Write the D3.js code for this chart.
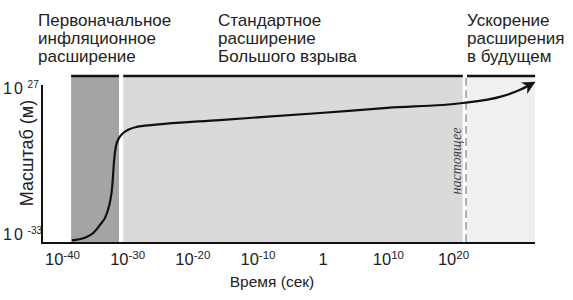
<!DOCTYPE html>
<html>
<head>
<meta charset="utf-8">
<script src="https://cdn.jsdelivr.net/npm/d3@7"></script>
<style>
  body { margin: 0; background: #fff; }
  svg { display: block; font-family: "Liberation Sans", Arial, sans-serif; }
</style>
</head>
<body>
<div id="chart"></div>
<script>
// log10 of time (s) and of scale (m)
const logTime  = [-38.5, -36.5, -35.2, -34.2, -33.1, -32.3, -32.0, -31.6, -30.6, -28.5, -26.0, -15.8, -0.4, 9.9, 21.5, 27.2, 30.3, 32.3];
const logScale = [-36.4, -35.3, -33.4, -30.2, -25.2, -14.5, -3.4, 3.6, 7.7, 10.2, 11.0, 13.0, 15.9, 18.0, 20.0, 22.5, 25.4, 28.2];

// eras: [start, end] in log10 seconds
const eraNames = ["Первоначальное|инфляционное|расширение", "Стандартное|расширение|Большого взрыва", "Ускорение|расширения|в будущем"];
const eraStart = [-38.6, -30.6, 22.15];
const eraEnd   = [-31.25, 21.5, 32.6];
const eraFill  = ["#a4a4a4", "#dadada", "#f0f0f0"];
const presentT = 22.0;

const xTicks = [-40, -30, -20, -10, 0, 10, 20];
const yTicks = [27, -33];

const width = 573, height = 300;
const svg = d3.select("#chart").append("svg")
  .attr("width", width)
  .attr("height", height);

const x = d3.scaleLinear().domain([-43.07, 32.58]).range([42, 535]);
const y = d3.scaleLinear().domain([-37.5, 27.4]).range([243, 85]);
const bandTop = 76;

// background bands
svg.selectAll("rect.era")
  .data(eraStart)
  .enter().append("rect")
  .attr("class", "era")
  .attr("x", (d, i) => x(d))
  .attr("y", bandTop)
  .attr("width", (d, i) => x(eraEnd[i]) - x(d))
  .attr("height", y(-37.5) - bandTop)
  .attr("fill", (d, i) => eraFill[i]);

// thick bar over each band
svg.selectAll("line.era-top")
  .data(eraStart)
  .enter().append("line")
  .attr("x1", d => x(d))
  .attr("x2", (d, i) => x(eraEnd[i]))
  .attr("y1", bandTop)
  .attr("y2", bandTop)
  .attr("stroke", "#111")
  .attr("stroke-width", 2.5);

// era titles
const titleX = [38, 218, 467];
eraNames.forEach((name, i) => {
  const t = svg.append("text")
    .attr("y", 26)
    .attr("font-size", 17)
    .attr("fill", "#222");
  name.split("|").forEach((line, j) => {
    t.append("tspan")
      .attr("x", titleX[i])
      .attr("dy", j == 0 ? 0 : 18)
      .text(line);
  });
});

// present marker
svg.append("line")
  .attr("x1", x(presentT)).attr("x2", x(presentT))
  .attr("y1", bandTop + 2).attr("y2", 243)
  .attr("stroke", "#666")
  .attr("stroke-width", 1)
  .attr("stroke-dasharray", "8,4");

svg.append("text")
  .attr("transform", `translate(${x(presentT) - 5},161) rotate(-90)`)
  .attr("text-anchor", "middle")
  .attr("font-family", "Liberation Serif, serif")
  .attr("font-style", "italic")
  .attr("font-size", 14)
  .attr("fill", "#444")
  .text("настоящее");

// axes
svg.append("line")
  .attr("x1", 42).attr("x2", 42)
  .attr("y1", y(27.4)).attr("y2", 244)
  .attr("stroke", "#111").attr("stroke-width", 2);
svg.append("line")
  .attr("x1", 41).attr("x2", 535)
  .attr("y1", 243).attr("y2", 243)
  .attr("stroke", "#111").attr("stroke-width", 2);

const sup = (sel, base, exp, size) => {
  sel.text(null);
  sel.append("tspan").text(base);
  if (exp !== null) {
    sel.append("tspan")
      .attr("dy", -6)
      .attr("font-size", size)
      .text(exp);
  }
};

const xAxis = svg.append("g")
  .attr("transform", "translate(0,243)")
  .call(d3.axisBottom(x).tickValues(xTicks).tickSize(0).tickPadding(0));
xAxis.select(".domain").remove();
xAxis.selectAll(".tick text")
  .attr("font-size", 16.5)
  .attr("font-family", "Liberation Sans, Arial, sans-serif")
  .attr("fill", "#222")
  .attr("dy", null)
  .attr("y", 22)
  .each(function (d) {
    if (d == 0) sup(d3.select(this), "1", null);
    else sup(d3.select(this), "10", d, 11.5);
  });

const yAxis = svg.append("g")
  .attr("transform", "translate(42,0)")
  .call(d3.axisLeft(y).tickValues(yTicks).tickSize(0).tickPadding(0));
yAxis.select(".domain").remove();
yAxis.selectAll(".tick text")
  .attr("font-size", 16)
  .attr("font-family", "Liberation Sans, Arial, sans-serif")
  .attr("fill", "#222")
  .attr("text-anchor", "start")
  .attr("x", -39)
  .attr("dy", "0.45em")
  .each(function (d) {
    sup(d3.select(this), "10", " " + d, 10);
    d3.select(this).select("tspan").attr("letter-spacing", 2);
  });

// axis titles
svg.append("text")
  .attr("x", 272)
  .attr("y", 287)
  .attr("text-anchor", "middle")
  .attr("font-size", 15.5)
  .attr("fill", "#222")
  .text("Время (сек)");

svg.append("text")
  .attr("transform", "translate(33,153) rotate(-90)")
  .attr("text-anchor", "middle")
  .attr("font-size", 18)
  .attr("fill", "#222")
  .text("Масштаб (м)");

// arrow marker
svg.append("defs").append("marker")
  .attr("id", "arrow")
  .attr("viewBox", "0 0 10 10")
  .attr("refX", 8).attr("refY", 5)
  .attr("markerWidth", 6).attr("markerHeight", 6)
  .attr("orient", "auto")
  .append("path")
  .attr("d", "M0,0 L10,5 L0,10 L3,5 Z")
  .attr("fill", "#111");

const line = d3.line()
  .x((d, i) => x(logTime[i]))
  .y((d, i) => y(logScale[i]))
  .curve(d3.curveMonotoneX);

svg.append("path")
  .datum(logTime)
  .attr("d", line)
  .attr("fill", "none")
  .attr("stroke", "#111")
  .attr("stroke-width", 2.2)
  .attr("marker-end", "url(#arrow)");
</script>
</body>
</html>
